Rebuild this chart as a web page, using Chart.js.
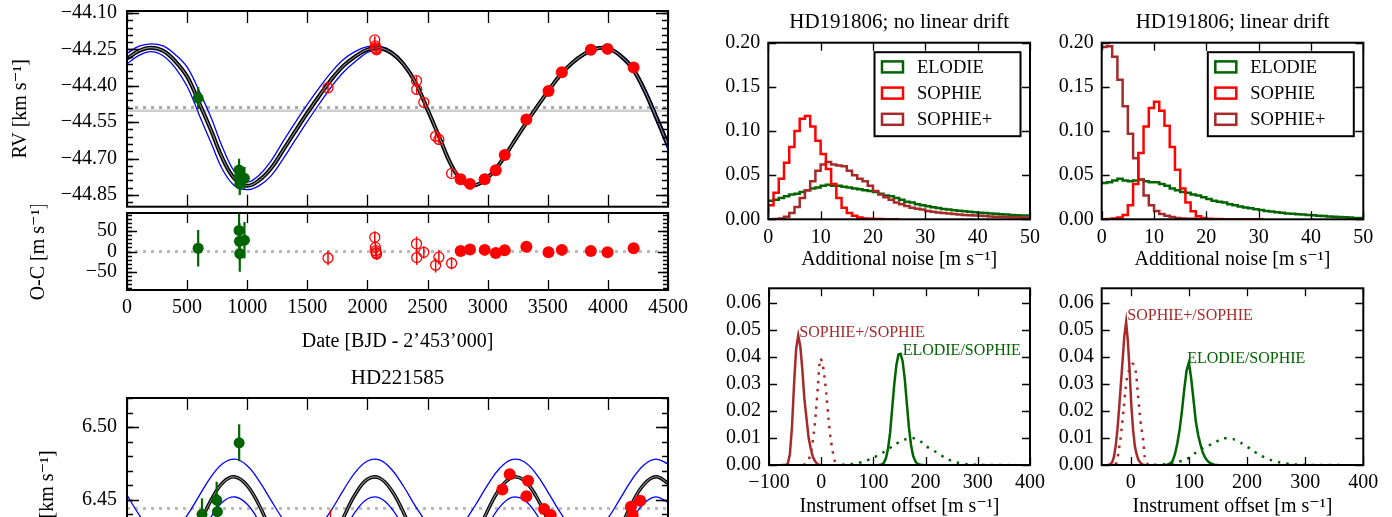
<!DOCTYPE html>
<html>
<head>
<meta charset="utf-8">
<title>HD191806 / HD221585</title>
<script src="https://cdn.jsdelivr.net/npm/chart.js@4.4.1/dist/chart.umd.min.js"></script>
<style>
html,body{margin:0;padding:0;background:#fff;width:1392px;height:517px;overflow:hidden;position:relative;}
canvas{position:absolute;display:block;}
</style>
</head>
<body>
<canvas id="cRV" width="700" height="213" style="left:0;top:0;"></canvas>
<canvas id="cOC" width="700" height="150" style="left:0;top:205px;"></canvas>
<canvas id="cHD2" width="700" height="260" style="left:0;top:360px;"></canvas>
<canvas id="cN1" width="360" height="275" style="left:690px;top:0;"></canvas>
<canvas id="cN2" width="352" height="275" style="left:1040px;top:0;"></canvas>
<canvas id="cO1" width="370" height="240" style="left:690px;top:280px;"></canvas>
<canvas id="cO2" width="352" height="240" style="left:1040px;top:280px;"></canvas>
<script>
// ---------------- DATA ----------------
// HD191806 radial velocities (date in BJD - 2453000, RV in km/s, O-C in m/s)
const modelDates = [0,100,200,300,400,500,600,700,800,900,1000,1100,1200,1300,1400,1500,1600,1700,1800,1900,2000,2100,2200,2300,2400,2500,2600,2700,2800,2900,3000,3100,3200,3300,3400,3500,3600,3700,3800,3900,4000,4100,4200,4300,4400,4500];
const rvModel = [-44.288,-44.256,-44.243,-44.256,-44.298,-44.362,-44.470,-44.584,-44.705,-44.786,-44.812,-44.789,-44.739,-44.664,-44.587,-44.512,-44.441,-44.374,-44.318,-44.279,-44.251,-44.244,-44.264,-44.311,-44.387,-44.498,-44.614,-44.729,-44.797,-44.809,-44.778,-44.721,-44.645,-44.568,-44.494,-44.424,-44.358,-44.307,-44.270,-44.247,-44.246,-44.274,-44.325,-44.414,-44.527,-44.645];
const rvModelHi = [-44.267,-44.237,-44.227,-44.236,-44.271,-44.323,-44.421,-44.532,-44.660,-44.758,-44.796,-44.767,-44.708,-44.628,-44.551,-44.477,-44.408,-44.344,-44.292,-44.258,-44.239,-44.237,-44.257,-44.304,-44.380,-44.491,-44.607,-44.723,-44.793,-44.805,-44.773,-44.716,-44.640,-44.563,-44.489,-44.419,-44.353,-44.302,-44.265,-44.242,-44.241,-44.267,-44.315,-44.401,-44.511,-44.627];
const rvModelLo = [-44.309,-44.275,-44.259,-44.276,-44.325,-44.402,-44.519,-44.636,-44.750,-44.814,-44.828,-44.811,-44.770,-44.700,-44.623,-44.547,-44.474,-44.404,-44.344,-44.300,-44.263,-44.251,-44.271,-44.318,-44.394,-44.505,-44.621,-44.735,-44.802,-44.813,-44.783,-44.726,-44.651,-44.574,-44.499,-44.429,-44.363,-44.312,-44.275,-44.252,-44.251,-44.281,-44.335,-44.428,-44.543,-44.663];
const rvRefSolid = -44.503;
const rvRefDotted = -44.489;

const elodieDates = [592, 932, 935, 938, 977];
const elodieRV = [-44.451, -44.747, -44.774, -44.804, -44.781];
const elodieRVErr = [0.046, 0.046, 0.046, 0.046, 0.046];
const elodieOC = [8, 52, 25, -5, 28];
const elodieOCErr = [45, 45, 45, 45, 45];

const sophieDates = [1672, 2061, 2066, 2069, 2072, 2076, 2408, 2410, 2469, 2567, 2594, 2700];
const sophieRV = [-44.408, -44.211, -44.236, -44.244, -44.249, -44.252, -44.379, -44.415, -44.468, -44.608, -44.621, -44.761];
const sophieRVErr = [0.018, 0.015, 0.015, 0.015, 0.015, 0.015, 0.018, 0.018, 0.015, 0.018, 0.018, 0.015];
const sophieOC = [-16, 35, 10, 2, -3, -6, 19, -15, -2, -34, -14, -29];
const sophieOCErr = [18, 15, 15, 15, 15, 15, 18, 18, 15, 18, 18, 15];

const sophiePDates = [2775, 2853, 2975, 3067, 3142, 3322, 3506, 3617, 3858, 3997, 4214];
const sophiePRV = [-44.785, -44.804, -44.785, -44.748, -44.685, -44.539, -44.421, -44.344, -44.252, -44.248, -44.325];
const sophiePRVErr = [0.003, 0.003, 0.003, 0.003, 0.003, 0.003, 0.003, 0.003, 0.003, 0.003, 0.003];
const sophiePOC = [1, 5, 4, -4, 3, 12, -2, 4, 1, -2, 8];
const sophiePOCErr = [3, 3, 3, 3, 3, 3, 3, 3, 3, 3, 3];
const ocZero = 0;

// HD221585
const hd221Model = [6.4334,6.4157,6.4026,6.3976,6.4023,6.4151,6.4326,6.4499,6.4620,6.4657,6.4598,6.4461,6.4282,6.4114,6.4003,6.3979,6.4051,6.4197,6.4377,6.4540,6.4641,6.4650,6.4566,6.4413,6.4232,6.4077,6.3986,6.3990,6.4086,6.4246,6.4426,6.4575,6.4653,6.4636,6.4529,6.4363,6.4183,6.4042,6.3978,6.4009,6.4125,6.4297,6.4474,6.4606,6.4658,6.4614];
const hd221Hi = [6.4533,6.4398,6.4298,6.4260,6.4295,6.4393,6.4527,6.4659,6.4751,6.4779,6.4734,6.4629,6.4494,6.4365,6.4280,6.4263,6.4317,6.4429,6.4566,6.4690,6.4767,6.4774,6.4710,6.4593,6.4455,6.4337,6.4268,6.4271,6.4344,6.4466,6.4603,6.4717,6.4776,6.4763,6.4682,6.4555,6.4418,6.4310,6.4261,6.4285,6.4373,6.4505,6.4639,6.4740,6.4780,6.4746];
const hd221Lo = [6.4241,6.4090,6.3977,6.3934,6.3974,6.4084,6.4235,6.4383,6.4488,6.4519,6.4469,6.4350,6.4197,6.4053,6.3957,6.3937,6.3998,6.4124,6.4278,6.4418,6.4505,6.4513,6.4441,6.4309,6.4154,6.4020,6.3943,6.3946,6.4029,6.4166,6.4321,6.4449,6.4516,6.4501,6.4409,6.4266,6.4112,6.3992,6.3935,6.3962,6.4062,6.4210,6.4362,6.4475,6.4520,6.4482];
const hd221Level = 6.444;
const hd221ElodieDates = [624, 746, 752, 933];
const hd221ElodieRV = [6.4400, 6.4498, 6.4418, 6.4892];
const hd221ElodieErr = [0.011, 0.0126, 0.012, 0.0127];
const hd221SophieDates = [1692];
const hd221SophieRV = [6.430];
const hd221SophieErr = [0.013];
const hd221SophiePDates = [3122, 3183, 3336, 3322, 3469, 3525, 4192, 4269, 4206];
const hd221SophiePRV = [6.4571, 6.4675, 6.4631, 6.4525, 6.4436, 6.4395, 6.4452, 6.4493, 6.4395];
const hd221SophiePErr = [0.003, 0.003, 0.003, 0.003, 0.003, 0.003, 0.003, 0.004, 0.003];

// Additional-noise posteriors (bin left edges, m/s)
const noiseEdges = [0,1,2,3,4,5,6,7,8,9,10,11,12,13,14,15,16,17,18,19,20,21,22,23,24,25,26,27,28,29,30,31,32,33,34,35,36,37,38,39,40,41,42,43,44,45,46,47,48,49,50];
const noDriftElodie = [0.020,0.021,0.022,0.024,0.026,0.028,0.029,0.031,0.033,0.035,0.036,0.038,0.039,0.038,0.038,0.037,0.036,0.035,0.034,0.033,0.032,0.031,0.029,0.027,0.026,0.024,0.022,0.020,0.019,0.017,0.016,0.0148,0.0137,0.0127,0.0118,0.011,0.0103,0.0096,0.009,0.0085,0.008,0.0075,0.007,0.0066,0.0062,0.0058,0.0054,0.005,0.0046,0.0042];
const noDriftSophie = [0.007,0.016,0.030,0.046,0.064,0.082,0.100,0.114,0.117,0.105,0.089,0.074,0.057,0.040,0.024,0.013,0.007,0.004,0.002,0.001,0.0005,0.0003,0.0002,0.0001,0.0001];
const noDriftSophiePlus = [0,0,0.0003,0.001,0.003,0.007,0.014,0.024,0.033,0.043,0.055,0.062,0.065,0.062,0.061,0.060,0.055,0.050,0.046,0.043,0.038,0.032,0.028,0.025,0.022,0.019,0.017,0.015,0.013,0.012,0.011,0.0095,0.0085,0.0077,0.007,0.0065,0.006,0.0055,0.005,0.0046,0.0042,0.0039,0.0036,0.0033,0.003,0.0028,0.0026,0.0024,0.0022,0.002];
const driftElodie = [0.040,0.041,0.042,0.044,0.046,0.044,0.043,0.044,0.045,0.043,0.042,0.042,0.040,0.038,0.035,0.033,0.031,0.030,0.028,0.027,0.025,0.023,0.021,0.020,0.019,0.017,0.016,0.0145,0.0135,0.0125,0.0115,0.0105,0.0095,0.0087,0.008,0.0073,0.0067,0.0062,0.0058,0.0054,0.005,0.0045,0.004,0.0036,0.0032,0.0028,0.0025,0.0022,0.0019,0.0016];
const driftSophie = [0,0,0.0003,0.001,0.002,0.005,0.016,0.040,0.075,0.105,0.126,0.133,0.123,0.106,0.082,0.056,0.035,0.019,0.009,0.0035,0.0015,0.0007,0.0004,0.0002,0.0001,0.0001,0.0001,0.0001,0.0001,0.0001,0.0001];
const driftSophiePlus = [0.192,0.195,0.196,0.184,0.158,0.128,0.097,0.069,0.045,0.027,0.016,0.0095,0.006,0.004,0.0025,0.0016,0.001,0.0007,0.0005,0.0003,0.0002,0.0001,0.0001,0.0001,0.0001,0.0001,0.0001,0.0001,0.0001,0.0001];

// Instrument offset posteriors (m/s) -- solid: posterior, dotted: broad curve
const offNdSpX = [-76,-72,-68,-64,-60,-56,-52,-48,-44,-40,-36,-32,-28,-24,-20,-16,-12,-8,-4,0];
const offNdSpY = [0,0,0,0.0005,0.004,0.014,0.030,0.043,0.048,0.044,0.035,0.024,0.017,0.010,0.006,0.003,0.0015,0.0005,0,0];
const offNdSpDotX = [-34,-30,-26,-22,-18,-14,-10,-6,-2,2,6,10,14,18,22,26,30,34];
const offNdSpDotY = [0.0001,0.0003,0.001,0.003,0.0065,0.012,0.020,0.030,0.0395,0.038,0.033,0.026,0.017,0.010,0.005,0.0015,0.0004,0.0001];
const offNdElX = [108,112,116,120,124,128,132,136,140,144,148,152,156,160,164,168,172,176,180,184,188,192,196];
const offNdElY = [0,0,0.0002,0.0008,0.0025,0.006,0.012,0.021,0.030,0.037,0.041,0.0412,0.0385,0.032,0.023,0.014,0.0075,0.0035,0.0015,0.0005,0.0002,0,0];
const offNdElDotX = [40,60,80,100,120,140,160,175,190,200,220,240,260,280,300,320,340,360];
const offNdElDotY = [0.0001,0.0004,0.0012,0.0027,0.0048,0.0074,0.0094,0.0100,0.0088,0.0071,0.0048,0.0024,0.0009,0.0003,0.0001,0,0,0];

const offDrSpX = [-41,-38,-35,-32,-29,-26,-23,-20,-17,-14,-11,-8,-5,-2,1,4,7,10,13,16,19,22,25];
const offDrSpY = [0,0,0.0003,0.001,0.003,0.007,0.013,0.021,0.030,0.039,0.048,0.053,0.046,0.035,0.022,0.013,0.007,0.004,0.002,0.001,0.0003,0,0];
const offDrSpDotX = [-27,-24,-21,-18,-15,-12,-9,-6,-3,0,3,6,9,12,15,18,21,24,27,30];
const offDrSpDotY = [0.0003,0.001,0.005,0.009,0.015,0.021,0.028,0.033,0.035,0.036,0.0375,0.037,0.034,0.027,0.020,0.014,0.010,0.003,0.001,0];
const offDrElX = [56,60,64,68,72,76,80,84,88,92,96,100,104,108,112,116,120,124,128,132,136,140,144,150];
const offDrElY = [0,0,0.0002,0.0006,0.0015,0.004,0.008,0.013,0.020,0.028,0.035,0.038,0.032,0.024,0.016,0.011,0.0075,0.0045,0.0027,0.0015,0.0008,0.0004,0,0];
const offDrElDotX = [40,60,80,95,110,125,142,158,176,191,208,222,240,257,277,300,320,340,360];
const offDrElDotY = [0.0001,0.0003,0.0012,0.002,0.0043,0.0064,0.008,0.0098,0.0096,0.008,0.0056,0.0037,0.0019,0.0009,0.0003,0.0001,0,0,0];

// peak labels (anchor in data coordinates)
const offLabelsNoDrift = [{text:'SOPHIE+/SOPHIE', x:-42, y:0.0474, who:'sp'}, {text:'ELODIE/SOPHIE', x:156, y:0.0408, who:'el'}];
const offLabelsDrift = [{text:'SOPHIE+/SOPHIE', x:-6, y:0.0538, who:'sp'}, {text:'ELODIE/SOPHIE', x:97, y:0.0377, who:'el'}];

// tick values
const dateTicks = [0,500,1000,1500,2000,2500,3000,3500,4000,4500];
const rvTicks = [-44.85,-44.70,-44.55,-44.40,-44.25,-44.10];
const ocTicks = [-50,0,50];
const hd221Ticks = [6.40,6.45,6.50];
const noiseXTicks = [0,10,20,30,40,50];
const noiseYTicks = [0,0.05,0.10,0.15,0.20];
const offYTicks = [0,0.01,0.02,0.03,0.04,0.05,0.06];
const offXTicksNoDrift = [-100,0,100,200,300,400];
const offXTicksDrift = [0,100,200,300,400];

// ---------------- STYLE / HELPERS ----------------
const FONT = "'Liberation Serif','Times New Roman','DejaVu Serif',serif";
const GREEN = '#006400', RED = '#ff0000', BROWN = '#a52a2a', BLUE = '#0000ff';
Chart.defaults.font.family = FONT;
Chart.defaults.color = '#000';
Chart.defaults.animation = false;

function pts(xs, ys){ return ys.map((y,i)=>({x:xs[i], y:y})); }
function stepPts(edges, ys){ const p = ys.map((y,i)=>({x:edges[i], y:y})); p.push({x:edges[ys.length], y:ys[ys.length-1]}); return p; }
function range(a,b,s){ const r=[]; for(let v=a; v<=b+1e-9; v+=s) r.push(+v.toFixed(6)); return r; }
const fmtFixed = d => v => (v < -1e-9 ? '\u2212' : '') + Math.abs(v).toFixed(d);
function noPad(s){ s.paddingLeft = 0; s.paddingRight = 0; s.paddingTop = 0; s.paddingBottom = 0; }

function yAxis(o){ return {
  type:'linear', position:'left', min:o.min, max:o.max,
  afterFit(s){ s.width = o.width; noPad(s); },
  afterBuildTicks(s){ s.ticks = o.ticks.map(v=>({value:v})); },
  grid:{display:false, drawTicks:false}, border:{display:false},
  ticks:{callback: fmtFixed(o.dec), padding:o.pad, font:{size:20}, color:'#000', autoSkip:false},
  title: o.title ? {display:true, text:o.title, font:{size:20}, color:'#000', padding:{top:o.tpad, bottom:0}} : {display:false}
};}
function xAxis(o){ return {
  type:'linear', position:'bottom', min:o.min, max:o.max,
  afterFit(s){ s.height = o.height; noPad(s); },
  afterBuildTicks(s){ s.ticks = o.ticks.map(v=>({value:v})); },
  grid:{display:false, drawTicks:false}, border:{display:false},
  ticks:{display: o.labels !== false, callback: fmtFixed(0), padding:(o.pad==null?6:o.pad), font:{size:20}, color:'#000', autoSkip:false, maxRotation:0},
  title: o.title ? {display:true, text:o.title, font:{size:20}, color:'#000', padding:{top:0, bottom:o.tpad}} : {display:false}
};}

// frame + inward ticks (matplotlib style)
const framePlugin = {
  id:'frame',
  afterDatasetsDraw(chart, args, o){
    if (!o || !o.xMajor) return;
    const {ctx, chartArea:a, scales} = chart;
    const xs = scales.x, ys = scales.y;
    ctx.save();
    ctx.strokeStyle = '#000'; ctx.lineWidth = 1.3;
    const vx = (vals, len) => (vals||[]).forEach(v=>{ const p = Math.round(xs.getPixelForValue(v))+0.5;
      ctx.beginPath(); ctx.moveTo(p, a.top); ctx.lineTo(p, a.top+len); ctx.moveTo(p, a.bottom); ctx.lineTo(p, a.bottom-len); ctx.stroke(); });
    const vy = (vals, len) => (vals||[]).forEach(v=>{ const p = Math.round(ys.getPixelForValue(v))+0.5;
      if (p < a.top-1 || p > a.bottom+1) return;
      ctx.beginPath(); ctx.moveTo(a.left, p); ctx.lineTo(a.left+len, p); ctx.moveTo(a.right, p); ctx.lineTo(a.right-len, p); ctx.stroke(); });
    vx(o.xMajor, o.majLen); vx(o.xMinor, o.minLen);
    vy(o.yMajor, o.majLen); vy(o.yMinor, o.minLen);
    ctx.lineWidth = 2;
    ctx.strokeRect(a.left, a.top, a.right-a.left, a.bottom-a.top);
    ctx.restore();
  }
};

// vertical error bars, drawn just before the dataset's markers
const errPlugin = {
  id:'errbars',
  beforeDatasetDraw(chart, args){
    const ds = chart.data.datasets[args.index];
    if (!ds.errors) return;
    const meta = args.meta, ys = chart.scales[meta.yAxisID], a = chart.chartArea, ctx = chart.ctx;
    ctx.save();
    ctx.beginPath(); ctx.rect(a.left, a.top, a.right-a.left, a.bottom-a.top); ctx.clip();
    ctx.strokeStyle = ds.errColor; ctx.lineWidth = ds.errWidth || 1.5;
    ds.data.forEach((p,i)=>{
      const e = ds.errors[i]; const x = meta.data[i].x;
      ctx.beginPath(); ctx.moveTo(x, ys.getPixelForValue(p.y - e)); ctx.lineTo(x, ys.getPixelForValue(p.y + e)); ctx.stroke();
    });
    ctx.restore();
  }
};

// titles and in-plot labels
const textPlugin = {
  id:'texts',
  afterDraw(chart, args, o){
    if (!o || !o.items) return;
    const {ctx, chartArea:a, scales} = chart;
    ctx.save();
    o.items.forEach(t=>{
      ctx.font = `${t.size||20}px ${FONT}`;
      ctx.fillStyle = t.color || '#000';
      if (t.data) {
        ctx.textAlign = 'left'; ctx.textBaseline = 'alphabetic';
        ctx.fillText(t.text, scales.x.getPixelForValue(t.x), scales.y.getPixelForValue(t.y));
      } else {
        ctx.textAlign = 'center'; ctx.textBaseline = 'middle';
        ctx.fillText(t.text, (a.left+a.right)/2, a.top + t.dy);
      }
    });
    ctx.restore();
  }
};

// boxed legend inside the axes (upper right)
const legendPlugin = {
  id:'boxLegend',
  afterDraw(chart, args, o){
    if (!o || !o.items) return;
    const {ctx, chartArea:a} = chart;
    const x0 = a.right - o.right - o.w, y0 = a.top + o.top;
    ctx.save();
    ctx.fillStyle = '#fff'; ctx.fillRect(x0, y0, o.w, o.h);
    ctx.lineWidth = 2; ctx.strokeStyle = '#000'; ctx.strokeRect(x0, y0, o.w, o.h);
    ctx.font = `${o.size}px ${FONT}`; ctx.textAlign = 'left'; ctx.textBaseline = 'middle';
    o.items.forEach((it,i)=>{
      const cy = y0 + o.first + i*o.gap;
      ctx.strokeStyle = it.color; ctx.lineWidth = 2.5;
      ctx.strokeRect(x0 + o.ix, cy - o.ih/2, o.iw, o.ih);
      ctx.fillStyle = '#000'; ctx.fillText(it.label, x0 + o.tx, cy + 1);
    });
    ctx.restore();
  }
};
Chart.register(framePlugin, errPlugin, textPlugin, legendPlugin);

const basePlugins = (extra) => Object.assign({legend:{display:false}, tooltip:{enabled:false}}, extra);
const lineDS = (data, color, width, extra) => Object.assign({type:'line', data, borderColor:color, backgroundColor:color, borderWidth:width, pointRadius:0, fill:false, tension:0.4, clip:0}, extra||{});
const markDS = (data, color, r, filled, errs, errW, extra) => Object.assign({type:'line', data, showLine:false, pointRadius:r, pointHoverRadius:r,
  pointBackgroundColor: filled ? color : 'rgba(0,0,0,0)', pointBorderColor: color, pointBorderWidth: filled ? 0 : 1.3,
  borderColor: color, errors: errs, errColor: color, errWidth: errW}, extra||{});
const flat = (x0, x1, y) => [{x:x0, y:y}, {x:x1, y:y}];

// ---------------- PANEL: HD191806 RV ----------------
new Chart(document.getElementById('cRV'), {
  type:'line',
  data:{datasets:[
    markDS(pts(sophiePDates, sophiePRV), RED, 6, true, sophiePRVErr, 1.5),
    markDS(pts(sophieDates, sophieRV), RED, 5, false, sophieRVErr, 1.5),
    markDS(pts(elodieDates, elodieRV), GREEN, 5.5, true, elodieRVErr, 2.2),
    lineDS(pts(modelDates, rvModel), '#8c8c8c', 1.1),
    lineDS(pts(modelDates, rvModel), '#000', 4),
    lineDS(pts(modelDates, rvModelHi), BLUE, 1.3),
    lineDS(pts(modelDates, rvModelLo), BLUE, 1.3),
    lineDS(flat(0, 4500, rvRefDotted), '#a9a9a9', 3, {tension:0, borderDash:[3,5]}),
    lineDS(flat(0, 4500, rvRefSolid), '#cfcfcf', 2.5, {tension:0})
  ]},
  options:{
    responsive:false, events:[],
    layout:{padding:{left:0, top:11, right:32, bottom:0}},
    scales:{
      x: xAxis({min:0, max:4500, ticks:dateTicks, height:0, labels:false}),
      y: yAxis({min:-44.898, max:-44.092, ticks:rvTicks, dec:2, width:127, pad:10, title:'RV [km s\u207B\u00B9]', tpad:9})
    },
    plugins: basePlugins({frame:{xMajor:dateTicks, yMajor:rvTicks, yMinor:range(-44.88, -44.10, 0.03), majLen:12, minLen:6}})
  }
});

// ---------------- PANEL: HD191806 O-C ----------------
new Chart(document.getElementById('cOC'), {
  type:'line',
  data:{datasets:[
    markDS(pts(sophiePDates, sophiePOC), RED, 6, true, sophiePOCErr, 1.5),
    markDS(pts(sophieDates, sophieOC), RED, 5, false, sophieOCErr, 1.5),
    markDS(pts(elodieDates, elodieOC), GREEN, 5.5, true, elodieOCErr, 2.2),
    lineDS(flat(0, 4500, ocZero), '#bdbdbd', 3, {tension:0, borderDash:[3,5]})
  ]},
  options:{
    responsive:false, events:[],
    layout:{padding:{left:0, top:8, right:32, bottom:0}},
    scales:{
      x: xAxis({min:0, max:4500, ticks:dateTicks, height:65, pad:6, title:'Date [BJD - 2\u2019453\u2019000]', tpad:1}),
      y: yAxis({min:-95, max:95, ticks:ocTicks, dec:0, width:127, pad:10, title:'O-C [m s\u207B\u00B9]', tpad:27})
    },
    plugins: basePlugins({frame:{xMajor:dateTicks, yMajor:ocTicks, yMinor:range(-90, 90, 10), majLen:10, minLen:5}})
  }
});

// ---------------- PANEL: HD221585 ----------------
new Chart(document.getElementById('cHD2'), {
  type:'line',
  data:{datasets:[
    markDS(pts(hd221SophiePDates, hd221SophiePRV), RED, 6, true, hd221SophiePErr, 1.5),
    markDS(pts(hd221SophieDates, hd221SophieRV), RED, 5, false, hd221SophieErr, 1.5),
    markDS(pts(hd221ElodieDates, hd221ElodieRV), GREEN, 5.5, true, hd221ElodieErr, 2.2),
    lineDS(pts(modelDates, hd221Model), '#8c8c8c', 1.1),
    lineDS(pts(modelDates, hd221Model), '#000', 3.5),
    lineDS(pts(modelDates, hd221Hi), BLUE, 1.3),
    lineDS(pts(modelDates, hd221Lo), BLUE, 1.3),
    lineDS(flat(0, 4500, hd221Level), '#bdbdbd', 3, {tension:0, borderDash:[3,5]})
  ]},
  options:{
    responsive:false, events:[],
    layout:{padding:{left:0, top:38, right:32, bottom:0}},
    scales:{
      x: xAxis({min:0, max:4500, ticks:dateTicks, height:18, labels:false}),
      y: yAxis({min:6.3797, max:6.52, ticks:hd221Ticks, dec:2, width:127, pad:10, title:'RV [km s\u207B\u00B9]', tpad:36})
    },
    plugins: basePlugins({
      frame:{xMajor:dateTicks, yMajor:hd221Ticks, yMinor:range(6.38, 6.52, 0.01), majLen:12, minLen:6},
      texts:{items:[{text:'HD221585', dy:-20, size:21}]}
    })
  }
});

// ---------------- PANELS: additional noise ----------------
const noiseLegend = (right) => ({items:[{label:'ELODIE', color:GREEN},{label:'SOPHIE', color:RED},{label:'SOPHIE+', color:BROWN}],
  right:right, top:9.5, w:146, h:84, first:14.7, gap:26.2, ix:7.5, iw:21, ih:11, tx:42.5, size:18.5});
function noiseChart(id, el, sp, spp, title, yw, padR){
  new Chart(document.getElementById(id), {
    type:'line',
    data:{datasets:[
      lineDS(stepPts(noiseEdges, sp), RED, 2.5, {tension:0, stepped:'after'}),
      lineDS(stepPts(noiseEdges, spp), BROWN, 2.5, {tension:0, stepped:'after'}),
      lineDS(stepPts(noiseEdges, el), GREEN, 2.5, {tension:0, stepped:'after'})
    ]},
    options:{
      responsive:false, events:[],
      layout:{padding:{left:0, top:42.7, right:padR, bottom:0}},
      scales:{
        x: xAxis({min:0, max:50, ticks:noiseXTicks, height:55.7, pad:6.7, title:'Additional noise [m s\u207B\u00B9]', tpad:3}),
        y: yAxis({min:0, max:0.2, ticks:noiseYTicks, dec:2, width:yw, pad:8})
      },
      plugins: basePlugins({
        frame:{xMajor:noiseXTicks, yMajor:noiseYTicks, majLen:8, minLen:4},
        texts:{items:[{text:title, dy:-20.7, size:21}]},
        boxLegend: noiseLegend(9.5)
      })
    }
  });
}
noiseChart('cN1', noDriftElodie, noDriftSophie, noDriftSophiePlus, 'HD191806; no linear drift', 78.3, 20);
noiseChart('cN2', driftElodie, driftSophie, driftSophiePlus, 'HD191806; linear drift', 61.7, 28.7);

// ---------------- PANELS: instrument offsets ----------------
function offChart(id, d, xmin, xticks, labels, yw, padR){
  new Chart(document.getElementById(id), {
    type:'line',
    data:{datasets:[
      lineDS(pts(d.spX, d.spY), BROWN, 2.5, {tension:0}),
      lineDS(pts(d.elX, d.elY), GREEN, 2.5, {tension:0}),
      lineDS(pts(d.spDX, d.spDY), BROWN, 2.5, {tension:0.3, borderDash:[2.5,6]}),
      lineDS(pts(d.elDX, d.elDY), GREEN, 2.5, {tension:0.3, borderDash:[2.5,6]})
    ]},
    options:{
      responsive:false, events:[],
      layout:{padding:{left:0, top:8.3, right:padR, bottom:0}},
      scales:{
        x: xAxis({min:xmin, max:400, ticks:xticks, height:55, pad:6, title:'Instrument offset [m s\u207B\u00B9]', tpad:1.3}),
        y: yAxis({min:0, max:0.0655, ticks:offYTicks, dec:2, width:yw, pad:8})
      },
      plugins: basePlugins({
        frame:{xMajor:xticks, yMajor:offYTicks, majLen:8, minLen:4},
        texts:{items: labels.map(l=>({text:l.text, data:true, x:l.x, y:l.y, size:16, color: l.who==='sp' ? BROWN : GREEN}))}
      })
    }
  });
}
offChart('cO1', {spX:offNdSpX, spY:offNdSpY, elX:offNdElX, elY:offNdElY, spDX:offNdSpDotX, spDY:offNdSpDotY, elDX:offNdElDotX, elDY:offNdElDotY},
  -100, offXTicksNoDrift, offLabelsNoDrift, 79, 30);
offChart('cO2', {spX:offDrSpX, spY:offDrSpY, elX:offDrElX, elY:offDrElY, spDX:offDrSpDotX, spDY:offDrSpDotY, elDX:offDrElDotX, elDY:offDrElDotY},
  -50, offXTicksDrift, offLabelsDrift, 61.7, 28.7);
</script>
</body>
</html>
